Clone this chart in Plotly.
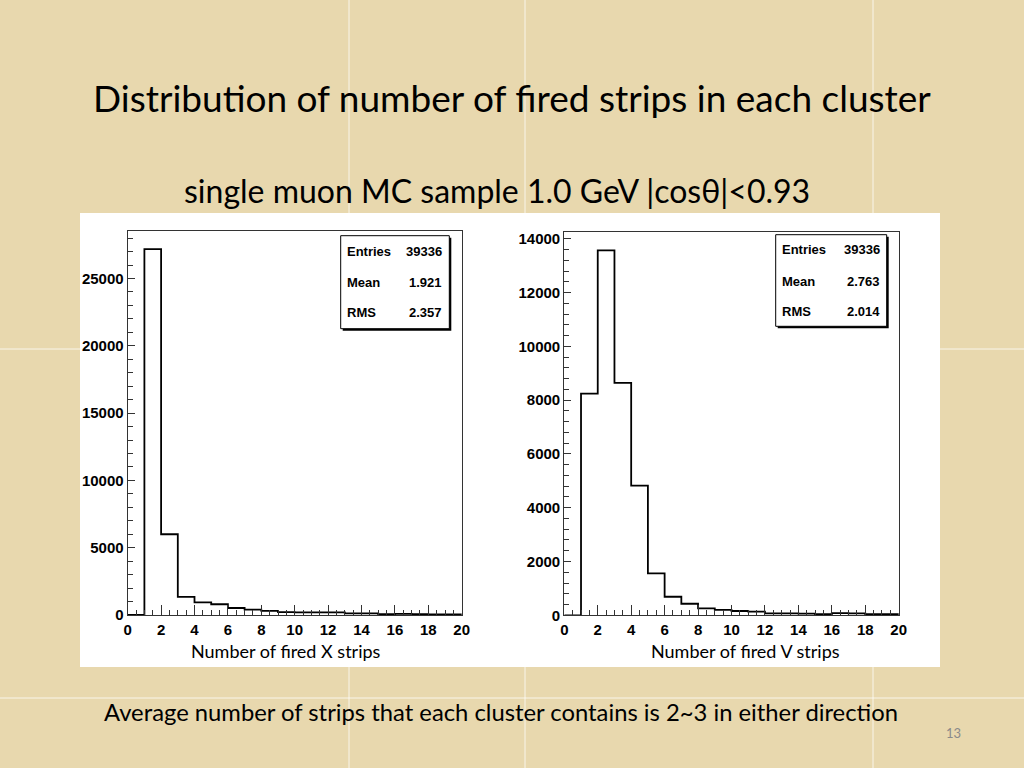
import plotly.graph_objects as go

# ---- data ----
bin_edges = list(range(0, 21))
x_counts = [0, 27190, 6000, 1340, 940, 800, 520, 400, 300, 220, 200, 200, 190, 125, 120, 70, 80, 60, 50, 40]
v_counts = [0, 8240, 13570, 8640, 4820, 1560, 690, 430, 260, 200, 160, 135, 70, 70, 60, 40, 80, 70, 40, 40]
x_stats = [("Entries", "39336"), ("Mean", "1.921"), ("RMS", "2.357")]
v_stats = [("Entries", "39336"), ("Mean", "2.763"), ("RMS", "2.014")]
x_title = "Number of fired X strips"
v_title = "Number of fired V strips"
title = "Distribution of number of fired strips in each cluster"
subtitle = "single muon MC sample 1.0 GeV |cos\u03b8|<0.93"
footer = "Average number of strips that each cluster contains is 2~3 in either direction"
page_no = "13"

W, H = 1024, 768
def px(x):
    return x / W
def py(y):
    return 1 - y / H

def step_xy(counts):
    xs = [bin_edges[0]] + bin_edges[:-1] + [bin_edges[-1]]
    ys = [0] + counts + [0]
    return xs, ys

fig = go.Figure()
xs, ys = step_xy(x_counts)
fig.add_trace(go.Scatter(x=xs, y=ys, mode="lines", line=dict(shape="hv", color="black", width=1.8),
                         xaxis="x", yaxis="y", showlegend=False, hoverinfo="skip"))
xs, ys = step_xy(v_counts)
fig.add_trace(go.Scatter(x=xs, y=ys, mode="lines", line=dict(shape="hv", color="black", width=1.8),
                         xaxis="x2", yaxis="y2", showlegend=False, hoverinfo="skip"))

tickfont = dict(family="Liberation Sans, Arial", size=15, color="black", weight="bold")

def xaxis_cfg(dom):
    return dict(domain=dom, range=[0, 20], tickmode="linear", tick0=0, dtick=2,
                ticks="inside", ticklen=10, tickwidth=1, tickcolor="#333",
                minor=dict(dtick=0.5, ticks="inside", ticklen=5, tickcolor="#333", showgrid=False),
                showline=True, linecolor="#333", linewidth=1.2, mirror=True,
                showgrid=False, zeroline=False, tickfont=tickfont, ticklabelstandoff=1)

def yaxis_cfg(dom, rng, dtick, mdtick):
    return dict(domain=dom, range=rng, tickmode="linear", tick0=0, dtick=dtick, tickformat="d",
                ticks="inside", ticklen=7, tickwidth=1, tickcolor="#333",
                minor=dict(dtick=mdtick, ticks="inside", ticklen=5, tickcolor="#333", showgrid=False),
                showline=True, linecolor="#333", linewidth=1.2, mirror=True,
                showgrid=False, zeroline=False, tickfont=tickfont, ticklabelstandoff=0)

xa1 = xaxis_cfg([px(127.7), px(461.7)]); xa1["anchor"] = "y"
ya1 = yaxis_cfg([py(615), py(231)], [0, 28530], 5000, 1000); ya1["anchor"] = "x"
xa2 = xaxis_cfg([px(564.3), px(898.7)]); xa2["anchor"] = "y2"
ya2 = yaxis_cfg([py(615.3), py(232)], [0, 14250], 2000, 400); ya2["anchor"] = "x2"

shapes = []
# tile seams of the background
for xv in [349, 525, 873]:
    shapes.append(dict(type="line", xref="paper", yref="paper", x0=px(xv), x1=px(xv), y0=0, y1=1,
                       line=dict(color="rgba(255,255,255,0.75)", width=1), layer="below"))
for yv in [349, 698]:
    shapes.append(dict(type="line", xref="paper", yref="paper", x0=0, x1=1, y0=py(yv), y1=py(yv),
                       line=dict(color="rgba(255,255,255,0.75)", width=1), layer="below"))
# white panel
shapes.append(dict(type="rect", xref="paper", yref="paper", x0=px(80), x1=px(940), y0=py(667), y1=py(213),
                   fillcolor="white", line=dict(width=0), layer="below"))

annotations = []
def stats_box(x0, x1, y0, y1, rows, rowy):
    shapes.append(dict(type="rect", xref="paper", yref="paper", x0=px(x0 + 2), x1=px(x1 + 2), y0=py(y1 + 2), y1=py(y0 + 2),
                       fillcolor="black", line=dict(width=0)))
    shapes.append(dict(type="rect", xref="paper", yref="paper", x0=px(x0), x1=px(x1), y0=py(y1), y1=py(y0),
                       fillcolor="white", line=dict(color="black", width=1)))
    for (lab, val), yy in zip(rows, rowy):
        annotations.append(dict(text=lab, xref="paper", yref="paper", x=px(x0 + 4), y=py(yy), xanchor="left",
                                yanchor="middle", showarrow=False,
                                font=dict(family="Liberation Sans, Arial", size=13, color="black", weight="bold")))
        annotations.append(dict(text=val, xref="paper", yref="paper", x=px(x1 - 5), y=py(yy), xanchor="right",
                                yanchor="middle", showarrow=False,
                                font=dict(family="Liberation Sans, Arial", size=13, color="black", weight="bold")))

stats_box(340.7, 449.3, 235.7, 328.7, x_stats, [251, 282, 312])
stats_box(775.7, 886.7, 234.7, 326.3, v_stats, [250, 281, 311])

def txt(s, x, y, size, color="black", anchor="center"):
    annotations.append(dict(text=s, xref="paper", yref="paper", x=px(x), y=py(y), xanchor=anchor,
                            yanchor="middle", showarrow=False,
                            font=dict(family="Lato, Open Sans, sans-serif", size=size, color=color)))

txt(title, 512, 97, 37)
txt(subtitle, 497, 190, 32)
txt(x_title, 286, 651, 18)
txt(v_title, 745, 651, 18)
txt(footer, 501, 712, 23.8)
txt(page_no, 953, 733, 13, color="#8a8a8a")

fig.update_layout(autosize=True, margin=dict(l=0, r=0, t=0, b=0, autoexpand=False),
                  paper_bgcolor="#E8D8AE", plot_bgcolor="white",
                  xaxis=xa1, yaxis=ya1, xaxis2=xa2, yaxis2=ya2,
                  shapes=shapes, annotations=annotations, showlegend=False)

fig.write_html("out.html",
               config={"displayModeBar": False, "responsive": True},
               default_width="100vw", default_height="100vh",
               post_script="document.documentElement.style.margin='0';document.body.style.margin='0';"
                           "document.body.style.padding='0';document.documentElement.style.overflow='hidden';"
                           "var gd=document.getElementById('{plot_id}');"
                           "Plotly.relayout(gd,{width:window.innerWidth,height:window.innerHeight});")
